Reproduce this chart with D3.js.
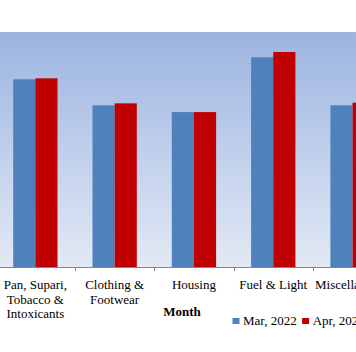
<!DOCTYPE html>
<html>
<head>
<meta charset="utf-8">
<script src="https://cdn.jsdelivr.net/npm/d3@7"></script>
<style>
  html, body { margin: 0; padding: 0; background: #fff; }
  svg { display: block; font-family: "Liberation Serif", "Times New Roman", serif; }
</style>
</head>
<body>
<svg id="chart"></svg>
<script>
(function () {
    'use strict';

    const categories = ['Pan, Supari, Tobacco & Intoxicants', 'Clothing & Footwear', 'Housing', 'Fuel & Light', 'Miscellaneous'];
    const series = ['Mar, 2022', 'Apr, 2022'];
    const mar2022 = [199.7, 172.0, 164.8, 223.1, 172.0];
    const apr2022 = [200.7, 174.1, 164.8, 228.7, 174.8];
    const colors = ['#4f81bd', '#c00000'];

    const width = 356;
    const height = 352;

    const plot = ({ top: 32, bottom: 267, left: -4.3, right: 392.2 });

    const x0 = d3.scaleBand()
        .domain(categories)
        .range([plot.left, plot.right])
        .padding(0);

    const x1 = d3.scaleBand()
        .domain(series)
        .range([0, x0.bandwidth()])
        .paddingInner(0)
        .paddingOuter(0.79);

    const y = d3.scaleLinear()
        .domain([0, 250])
        .range([plot.bottom, plot.top]);

    const svg = d3.select('#chart')
        .attr('width', width)
        .attr('height', height)
        .attr('viewBox', [0, 0, width, height]);

    const defs = svg.append('defs');
    const grad = defs.append('linearGradient')
        .attr('id', 'bg')
        .attr('x1', 0).attr('y1', 0)
        .attr('x2', 0).attr('y2', 1);
    grad.append('stop').attr('offset', '0%').attr('stop-color', '#9cb4e1');
    grad.append('stop').attr('offset', '100%').attr('stop-color', '#e2e9f5');

    svg.append('rect')
        .attr('x', plot.left)
        .attr('y', plot.top)
        .attr('width', plot.right - plot.left)
        .attr('height', plot.bottom - plot.top)
        .attr('fill', 'url(#bg)');

    const data = series.map((s, i) => ({ name: s, values: i === 0 ? mar2022 : apr2022, color: colors[i] }));

    const groups = svg.append('g').classed('bars', true)
        .selectAll('g')
        .data(categories)
        .join('g')
        .attr('transform', d => `translate(${x0(d)},0)`);

    groups.selectAll('rect')
        .data((d, ci) => data.map(s => ({ series: s.name, value: s.values[ci], color: s.color })))
        .join('rect')
        .attr('x', d => x1(d.series))
        .attr('width', x1.bandwidth())
        .attr('y', d => y(d.value))
        .attr('height', d => y(0) - y(d.value))
        .attr('fill', d => d.color);

    // x axis: line plus ticks on category boundaries
    const axis = svg.append('g').classed('axis', true);
    axis.append('line')
        .attr('x1', plot.left).attr('x2', plot.right)
        .attr('y1', plot.bottom + 0.5).attr('y2', plot.bottom + 0.5)
        .attr('stroke', '#868686');

    const bounds = categories.map(c => x0(c)).concat([plot.right]);
    axis.selectAll('.tick')
        .data(bounds)
        .join('line')
        .attr('class', 'tick')
        .attr('x1', d => Math.round(d) + 0.5).attr('x2', d => Math.round(d) + 0.5)
        .attr('y1', plot.bottom).attr('y2', plot.bottom + 4)
        .attr('stroke', '#868686');

    const labels = axis.selectAll('text.cat')
        .data(categories)
        .join('text')
        .attr('class', 'cat')
        .attr('x', d => x0(d) + x0.bandwidth() / 2)
        .attr('y', 289)
        .attr('text-anchor', 'middle')
        .attr('font-size', 13)
        .attr('fill', '#000');

    // wrap labels to the band width
    labels.each(function (d) {
        const text = d3.select(this);
        const words = d.split(' ');
        const cx = +text.attr('x');
        let line = [];
        let lineNo = 0;
        let tspan = text.append('tspan').attr('x', cx).attr('dy', 0);
        words.forEach(w => {
            line.push(w);
            tspan.text(line.join(' '));
            if (tspan.node().getComputedTextLength() > 76 && line.length > 1) {
                line.pop();
                tspan.text(line.join(' '));
                line = [w];
                lineNo += 1;
                tspan = text.append('tspan').attr('x', cx).attr('dy', 14.5).text(w);
            }
        });
    });

    svg.append('text')
        .attr('x', 182)
        .attr('y', 316)
        .attr('text-anchor', 'middle')
        .attr('font-size', 13)
        .attr('font-weight', 'bold')
        .text('Month');

    const legend = svg.append('g').classed('legend', true)
        .attr('transform', 'translate(232.5,325)');

    let lx = 0;
    data.forEach(s => {
        const item = legend.append('g').attr('transform', `translate(${lx},0)`);
        item.append('rect')
            .attr('x', 0).attr('y', -7)
            .attr('width', 7).attr('height', 6)
            .attr('fill', s.color);
        const t = item.append('text')
            .attr('x', 10.5)
            .attr('y', 0)
            .attr('font-size', 13)
            .text(s.name);
        lx += 10.5 + t.node().getComputedTextLength() + 5.5;
    });
})();
</script>
</body>
</html>
